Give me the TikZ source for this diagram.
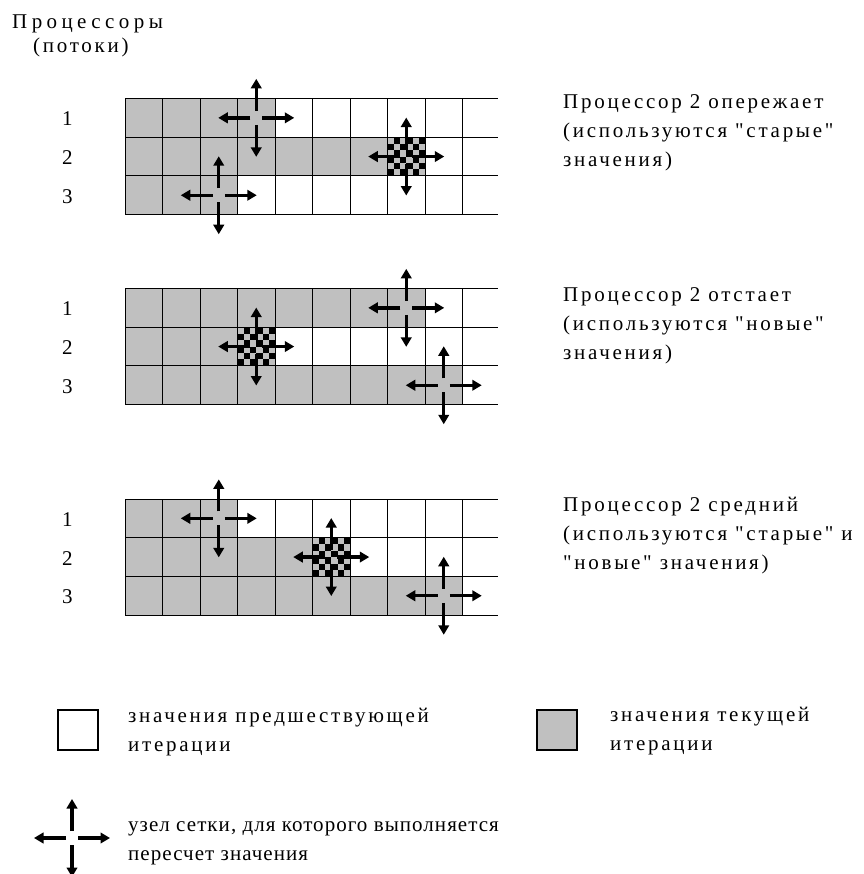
\documentclass[tikz,border=0pt]{standalone}
\usepackage{fontspec}
\setmainfont{Liberation Serif}[LetterSpace=13, Ligatures=TeXOff]
\newfontfamily\widefont{Liberation Serif}[LetterSpace=21, Ligatures=TeXOff]
\newfontfamily\narrowfont{Liberation Serif}[LetterSpace=5, Ligatures=TeXOff]
\usetikzlibrary{arrows.meta,calc}

\definecolor{cellgray}{HTML}{C0C0C0}

% grid geometry (in pt): left edge, column width, row height, right end of the rows
\newcommand\gx{125}
\newcommand\cw{37.5}
\newcommand\rh{38.7}
\newcommand\gend{498}

\tikzset{
  % multi-line texts are placed by the baseline of their last line
  txt/.style={anchor=base west, align=left, inner sep=0pt,
    font=\fontsize{21}{29}\selectfont},
  gridline/.style={line width=1pt, black},
  arm/.style={line width=3.4pt, -{Triangle[length=9.5pt,width=10.5pt]}},
  boxkey/.style={draw, line width=1.4pt},
}

% shade one row: #1 grid top, #2 row (1..3), #3 grey cells, #4 checkered column (0 = none)
\newcommand\shaderow[4]{%
  \ifnum#3>0
    \fill[cellgray] (\gx,{#1+(#2-1)*\rh}) rectangle ++({#3*\cw},\rh);
  \fi
  \ifnum#4>0
    \fill[cellgray] ({\gx+(#4-1)*\cw},{#1+(#2-1)*\rh}) rectangle ++(\cw,\rh);
    \foreach \i in {0,...,5}{
      \foreach \j in {0,...,5}{
        \pgfmathtruncatemacro\parity{mod(\i+\j,2)}
        \ifnum\parity=1
          \fill[black] ({\gx+(#4-1)*\cw+\i*\cw/6},{#1+(#2-1)*\rh+\j*\rh/6})
            rectangle ++({\cw/6},{\rh/6});
        \fi
      }
    }
  \fi
}

% grid lines of one block with its top at #1
\newcommand\gridlines[1]{%
  \foreach \r in {0,...,3}
    \draw[gridline] (\gx,{#1+\r*\rh}) -- (\gend,{#1+\r*\rh});
  \foreach \c in {0,...,9}
    \draw[gridline] ({\gx+\c*\cw},#1) -- ({\gx+\c*\cw},{#1+3*\rh});
}

% four-way arrow cross around the point #1
\newcommand\nodecross[1]{%
  \draw[arm] ($(#1)+(-6,0)$) -- ($(#1)+(-38,0)$);
  \draw[arm] ($(#1)+(6,0)$) -- ($(#1)+(38,0)$);
  \draw[arm] ($(#1)+(0,-7)$) -- ($(#1)+(0,-39)$);
  \draw[arm] ($(#1)+(0,7)$) -- ($(#1)+(0,39)$);
}

% centre of cell (#3 column, #4 row) in the block with top #2, named #1
\newcommand\cellcentre[4]{%
  \coordinate (#1) at ({\gx+(#3-0.5)*\cw},{#2+(#4-0.5)*\rh});
}

% row numbers 1-3 beside the block with top #1, names prefixed by #2
\newcommand\rownumbers[2]{%
  \node[txt] (#2n1) at (62,{#1+0.5*\rh+8}) {1};
  \node[txt] (#2n2) at (62,{#1+1.5*\rh+8}) {2};
  \node[txt] (#2n3) at (62,{#1+2.5*\rh+8}) {3};
}

\begin{document}
\begin{tikzpicture}[x=1pt,y=-1pt]
\useasboundingbox (0,0) rectangle (863,874);

% heading
\node[txt] (head) at (12,29) {\widefont Процессоры};
\node[txt] (headsub) at (33,53) {(потоки)};

% ---- block 1: processor 2 runs ahead
\def\ta{98.5}
\shaderow{\ta}{1}{4}{0}
\shaderow{\ta}{2}{7}{8}
\shaderow{\ta}{3}{3}{0}
\gridlines{\ta}
\cellcentre{a1}{\ta}{4}{1}
\cellcentre{a2}{\ta}{8}{2}
\cellcentre{a3}{\ta}{3}{3}
\nodecross{a1}\nodecross{a2}\nodecross{a3}
\rownumbers{\ta}{a}
\node[txt] (atext) at (563,167) {Процессор 2 опережает\\(используются "старые"\\значения)};

% ---- block 2: processor 2 lags behind
\def\tb{288.5}
\shaderow{\tb}{1}{8}{0}
\shaderow{\tb}{2}{3}{4}
\shaderow{\tb}{3}{9}{0}
\gridlines{\tb}
\cellcentre{b1}{\tb}{8}{1}
\cellcentre{b2}{\tb}{4}{2}
\cellcentre{b3}{\tb}{9}{3}
\nodecross{b1}\nodecross{b2}\nodecross{b3}
\rownumbers{\tb}{b}
\node[txt] (btext) at (563,359) {Процессор 2 отстает\\(используются "новые"\\значения)};

% ---- block 3: processor 2 in the middle
\def\tc{499}
\shaderow{\tc}{1}{3}{0}
\shaderow{\tc}{2}{5}{6}
\shaderow{\tc}{3}{9}{0}
\gridlines{\tc}
\cellcentre{c1}{\tc}{3}{1}
\cellcentre{c2}{\tc}{6}{2}
\cellcentre{c3}{\tc}{9}{3}
\nodecross{c1}\nodecross{c2}\nodecross{c3}
\rownumbers{\tc}{c}
\node[txt] (ctext) at (563,569) {Процессор 2 средний\\(используются "старые" и\\"новые" значения)};

% ---- legend
\draw[boxkey, fill=white] (58,710) rectangle (98,750);
\node[txt] (keyold) at (128,751) {значения предшествующей\\итерации};
\draw[boxkey, fill=cellgray] (537,710) rectangle (577,750);
\node[txt] (keynew) at (610,750) {значения текущей\\итерации};
\coordinate (keyx) at (72,838);
\nodecross{keyx}
\node[txt, font=\fontsize{21}{29}\narrowfont] (keycross) at (128,860)
  {узел сетки, для которого выполняется\\пересчет значения};
\end{tikzpicture}
\end{document}
